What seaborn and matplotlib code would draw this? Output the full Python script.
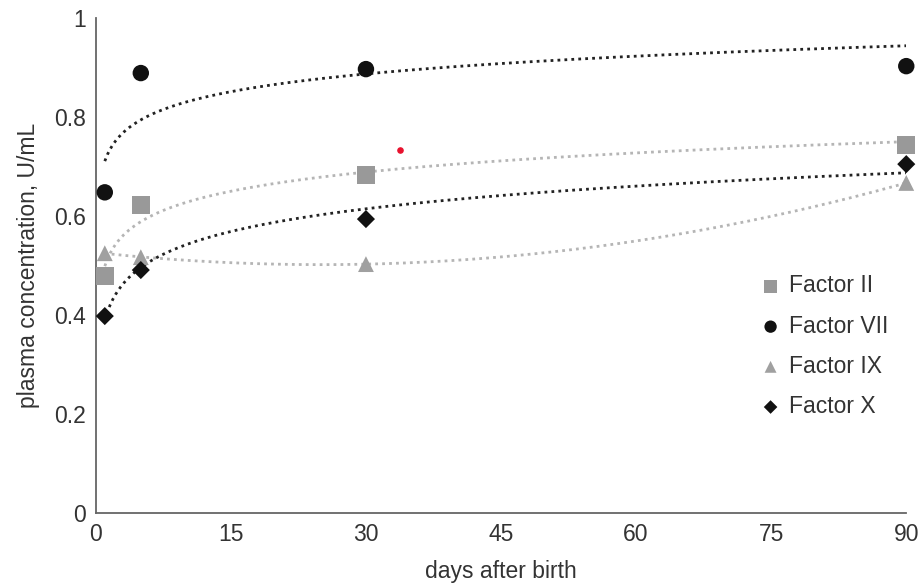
import numpy as np
import pandas as pd
import seaborn as sns
import matplotlib.pyplot as plt

# values
days = [1, 5, 30, 90]
factor_ii = [0.479, 0.622, 0.683, 0.743]
factor_vii = [0.648, 0.889, 0.897, 0.903]
factor_ix = [0.525, 0.517, 0.503, 0.667]
factor_x = [0.398, 0.491, 0.594, 0.705]
stray_day = [33.8]
stray_value = [0.733]

names = ["Factor II", "Factor VII", "Factor IX", "Factor X"]
series = [factor_ii, factor_vii, factor_ix, factor_x]

df = pd.DataFrame({
    "day": days * 4,
    "conc": factor_ii + factor_vii + factor_ix + factor_x,
    "factor": np.repeat(names, len(days)),
})

sns.set_style("white")
plt.rcParams["font.family"] = ["Liberation Sans", "DejaVu Sans"]

fig, ax = plt.subplots(figsize=(9.21, 5.85), dpi=100)
fig.subplots_adjust(left=0.104, right=0.984, bottom=0.123, top=0.969)

colors = {"Factor II": "#999999", "Factor VII": "#111111", "Factor IX": "#a0a0a0", "Factor X": "#111111"}
markers = {"Factor II": "s", "Factor VII": "o", "Factor IX": "^", "Factor X": "D"}
sizes = {"Factor II": 165, "Factor VII": 140, "Factor IX": 130, "Factor X": 85}
trend_colors = {"Factor II": "#b5b5b5", "Factor VII": "#222222", "Factor IX": "#b5b5b5", "Factor X": "#222222"}

# trend lines: log fits, quadratic fit for factor IX
xs = np.linspace(1, 90, 300)
for name, vals in zip(names, series):
    if name == "Factor IX":
        coef = np.polyfit(days, vals, 2)
        ys = np.polyval(coef, xs)
    else:
        coef = np.polyfit(np.log(days), vals, 1)
        ys = np.polyval(coef, np.log(xs))
    ax.plot(xs, ys, linestyle=(0, (1, 1.5)), linewidth=2.0, color=trend_colors[name], zorder=1)

for name in names:
    sub = df[df.factor == name]
    sns.scatterplot(data=sub, x="day", y="conc", marker=markers[name], color=colors[name],
                    s=sizes[name], edgecolor="none", label=name, ax=ax, zorder=3, clip_on=False)

ax.scatter(stray_day, stray_value, s=14, color="#e8112d", zorder=3)

ax.set_xlim(0, 90)
ax.set_ylim(0, 1)
ax.set_xticks([0, 15, 30, 45, 60, 75, 90])
ax.set_yticks([0, 0.2, 0.4, 0.6, 0.8, 1.0])
ax.set_yticklabels(["0", "0.2", "0.4", "0.6", "0.8", "1"])
ax.tick_params(labelsize=16.5, colors="#333333", length=0, pad=7)
ax.set_xlabel("days after birth", fontsize=16.5, color="#333333", labelpad=10)
ax.set_ylabel("plasma concentration, U/mL", fontsize=16.5, color="#333333", labelpad=10)
for side in ["top", "right"]:
    ax.spines[side].set_visible(False)
for side in ["left", "bottom"]:
    ax.spines[side].set_color("#666666")
    ax.spines[side].set_linewidth(1.3)

leg = ax.legend(loc="center left", bbox_to_anchor=(0.793, 0.337), frameon=False, fontsize=16.5,
                markerscale=0.75, handletextpad=0.3, labelspacing=0.75, handlelength=1.0,
                labelcolor="#333333")

fig.savefig("out.png", dpi=100)
